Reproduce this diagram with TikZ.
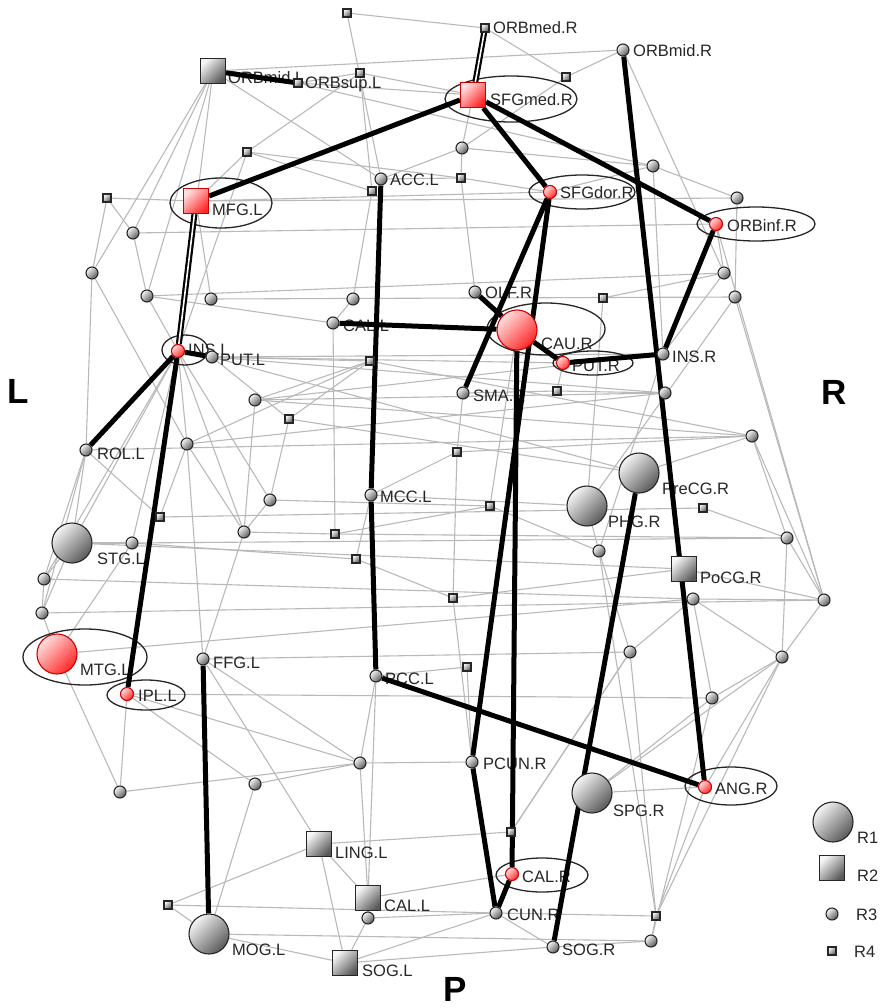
\documentclass[tikz,border=0pt]{standalone}
\usepackage{fontspec}
\setmainfont{Liberation Sans}
\usetikzlibrary{shapes.geometric}
\pgfdeclarelayer{bg}
\pgfdeclarelayer{lab}
\pgfdeclarelayer{thick}
\pgfsetlayers{bg,lab,thick,main}
\definecolor{edgegray}{RGB}{185,185,185}
\begin{document}
\begin{tikzpicture}[x=1pt,y=-1pt,
  nd/.style={draw=black!85, line width=1.1pt, inner sep=0pt, top color=gray!8, bottom color=gray!70!black, shading angle=45},
  rd/.style={draw=red!80!black, line width=1.1pt, inner sep=0pt, top color=red!12, bottom color=red!85, shading angle=45},
  rone/.style={circle, minimum size=40pt},
  rtwo/.style={rectangle, minimum size=25pt},
  rthree/.style={circle, minimum size=12pt},
  rthreered/.style={circle, minimum size=13pt},
  rfour/.style={rectangle, minimum size=8pt},
  weak/.style={draw=edgegray, line width=1.1pt},
  strong/.style={draw=black, line width=5pt},
  dbl/.style={draw=black, line width=2.2pt, double=white, double distance=1.6pt},
  ring/.style={draw=black!85, line width=1.3pt},
  lab/.style={font=\fontsize{16.5}{18}\selectfont, text=black!85, inner sep=0pt, anchor=base west},
  side/.style={font=\bfseries\fontsize{35}{40}\selectfont, inner sep=0pt}]
\useasboundingbox (0,0) rectangle (884,1008);

% ---------- named regions ----------
\node[nd,rtwo] (ORBmidL) at (213,71) {};
\node[nd,rfour] (ORBsupL) at (298,83) {};
\node[nd,rfour] (ORBmedR) at (485,28) {};
\node[nd,rthree] (ORBmidR) at (623,50) {};
\node[rd,rtwo] (SFGmedR) at (473,95) {};
\node[nd,rthree] (ACCL) at (381,179) {};
\node[rd,rthreered] (SFGdorR) at (550,192) {};
\node[rd,rtwo] (MFGL) at (196,201) {};
\node[rd,rthreered] (ORBinfR) at (716,224) {};
\node[nd,rthree] (OLFR) at (475,292) {};
\node[nd,rthree] (PALL) at (333,323) {};
\node[rd,rone] (CAUR) at (517,330) {};
\node[rd,rthreered] (PUTR) at (563,363) {};
\node[rd,rthreered] (INSL) at (178,351) {};
\node[nd,rthree] (PUTL) at (212,357) {};
\node[nd,rthree] (INSR) at (663,354) {};
\node[nd,rthree] (SMAR) at (463,393) {};
\node[nd,rthree] (ROLL) at (86,450) {};
\node[nd,rthree] (MCCL) at (371,495) {};
\node[nd,rone] (PreCGR) at (639,473) {};
\node[nd,rone] (PHGR) at (587,506) {};
\node[nd,rone] (STGL) at (72,543) {};
\node[nd,rtwo] (PoCGR) at (684,569) {};
\node[rd,rone] (MTGL) at (57,654) {};
\node[nd,rthree] (FFGL) at (203,659) {};
\node[nd,rthree] (PCCL) at (376,676) {};
\node[rd,rthreered] (IPLL) at (127,694) {};
\node[nd,rthree] (PCUNR) at (472,762) {};
\node[nd,rone] (SPGR) at (592,793) {};
\node[rd,rthreered] (ANGR) at (705,787) {};
\node[nd,rtwo] (LINGL) at (319,844) {};
\node[rd,rthreered] (CALR) at (512,874) {};
\node[nd,rtwo] (CALL) at (368,898) {};
\node[nd,rthree] (CUNR) at (496,913) {};
\node[nd,rone] (MOGL) at (209,934) {};
\node[nd,rthree] (SOGR) at (553,947) {};
\node[nd,rtwo] (SOGL) at (345,963) {};

% ---------- unlabelled regions ----------
\foreach \n/\x/\y in {a1/347/13, a2/360/73, a3/566/77, a5/247/152, a6/461/178, a7/372/191,
  a10/107/198, a16/603/298, a19/370/361, a20/557/391, a23/289/419, a25/457/452, a28/490/506,
  a29/703/508, a30/160/517, a33/335/534, a36/356/559, a38/453/598, a44/467/667, a49/511/832,
  a50/168/905, a52/656/916}
  \node[nd,rfour] (\n) at (\x,\y) {};
\foreach \n/\x/\y in {a4/462/148, a8/653/166, a9/737/198, a11/133/233, a12/92/273, a13/147/296,
  a14/211/299, a15/353/299, a17/724/273, a18/735/297, a21/665/393, a22/255/400, a24/187/444,
  a26/752/436, a27/270/500, a31/244/532, a32/132/543, a34/787/538, a35/599/551, a37/44/579,
  a39/693/599, a40/824/600, a41/42/613, a42/630/652, a43/782/657, a45/712/698, a46/360/763,
  a47/255/784, a48/120/792, a51/368/918, a53/651/941}
  \node[nd,rthree] (\n) at (\x,\y) {};

% ---------- legend ----------
\node[nd,rone] (k1) at (833,822) {};
\node[nd,rtwo] (k2) at (832,868) {};
\node[nd,rthree] (k3) at (832,914) {};
\node[nd,rfour] (k4) at (832,951) {};

% ---------- thin connections ----------
\begin{pgfonlayer}{bg}
\foreach \a/\b in {a1/ORBmedR, a1/ACCL, a2/a7, a2/SFGmedR, ORBsupL/a2, ORBmedR/a3, ORBmidR/a3,
  ORBmidL/ORBmidR, a3/a4, a4/ACCL, a4/a6, a4/SFGmedR, a4/a8, ORBsupL/SFGmedR, ORBsupL/a8,
  ACCL/ORBmidL, a5/a2, a5/a6, a5/a7, a5/INSL, a5/MFGL, ACCL/a6, a6/SFGdorR, a6/OLFR, a7/a15,
  MFGL/SFGdorR, MFGL/a9, a10/MFGL, a10/a11, a10/a12, a11/ORBinfR, a11/a13, ORBmidL/a11,
  ORBmidL/a12, ORBmidL/a13, ORBmidL/INSL, ORBmidR/a17, a8/a9, a8/SFGdorR, a8/INSR, a9/a18,
  ORBinfR/a17, a13/a17, a14/a18, a14/MFGL, a13/INSL, a16/a17, a16/PHGR, a17/INSR, a18/PHGR,
  a18/a40, ORBinfR/a40, a15/PALL, PALL/a13, PALL/a33, PUTL/INSR, PUTL/PUTR, PUTL/a19, PUTL/a21,
  PUTL/a23, PUTL/PreCGR, a19/a22, a19/a23, a19/a26, a24/a19, a22/a21, a22/INSR, a22/a26,
  a22/a31, a23/PreCGR, a25/MCCL, a25/a26, SMAR/a20, a20/a21, SMAR/a25, a25/a38, PUTR/a20,
  a12/ROLL, a12/a24, ROLL/a26, ROLL/a30, ROLL/STGL, ROLL/a37, ROLL/a41, a24/a30, a24/a21,
  a24/a31, INSL/a24, INSL/a27, INSL/a31, INSL/STGL, INSL/a37, INSL/a32, a27/a28, a27/a23,
  a27/a31, a30/a29, a31/a33, a33/a28, a32/a34, a32/a36, a36/MCCL, a36/a38, a38/PoCGR,
  a38/PCUNR, a44/PCUNR, PCCL/a44, PCCL/a46, PCCL/CALL, a28/a35, CAUR/a28, MCCL/PHGR, a33/a34,
  STGL/a32, STGL/PoCGR, STGL/a37, a37/a41, a41/STGL, a41/MTGL, a37/a39, a41/a40, MTGL/a39,
  MTGL/a48, a32/MTGL, FFGL/a42, FFGL/a31, FFGL/a24, FFGL/a46, FFGL/LINGL, IPLL/a45, IPLL/a46,
  IPLL/a48, IPLL/a47, a29/a34, a34/a43, a34/a40, a26/a34, a26/a40, PreCGR/a26, PoCGR/a40,
  a39/a40, a39/a43, a39/a42, a39/a45, a40/a43, a43/a45, a43/SPGR, a43/ANGR, a43/a52, a42/a35,
  a35/PHGR, a42/a52, a42/a49, a35/a52, a45/SPGR, a45/a53, SPGR/ANGR, ANGR/a52, a52/a53,
  SOGR/a53, CUNR/a52, a46/PCUNR, a47/a46, a48/a46, a47/MOGL, MOGL/a50, a50/CUNR, a50/LINGL,
  MOGL/SOGL, MOGL/a53, LINGL/CALL, LINGL/SOGL, LINGL/a49, CALL/a51, CALL/CALR, CALL/a46,
  a51/CUNR, SOGL/SOGR, SOGL/CUNR, SOGL/a51, CUNR/SOGR, a49/a42, INSR/a35}
  \draw[weak] (\a) -- (\b);
\end{pgfonlayer}

% ---------- rings and labels ----------
\begin{pgfonlayer}{lab}
\draw[ring] (511,99) ellipse [x radius=66, y radius=23];
\draw[ring] (221,203) ellipse [x radius=51, y radius=25];
\draw[ring] (582,192) ellipse [x radius=53, y radius=17];
\draw[ring] (756,224) ellipse [x radius=59, y radius=17];
\draw[ring] (185,350) ellipse [x radius=23, y radius=15];
\draw[ring] (546,329) ellipse [x radius=59, y radius=26];
\draw[ring] (593,363) ellipse [x radius=40, y radius=12];
\draw[ring] (85,657) ellipse [x radius=62, y radius=28];
\draw[ring] (146,695) ellipse [x radius=39, y radius=15];
\draw[ring] (731,786) ellipse [x radius=46, y radius=19];
\draw[ring] (542,875) ellipse [x radius=46, y radius=17];

\node[lab] (tORBmedR) at (493,34) {ORBmed.R};
\node[lab] (tORBmidR) at (633,57) {ORBmid.R};
\node[lab] (tORBmidL) at (228,84) {ORBmid.L};
\node[lab] (tORBsupL) at (305,89) {ORBsup.L};
\node[lab] (tSFGmedR) at (490,106) {SFGmed.R};
\node[lab] (tACCL) at (390,186) {ACC.L};
\node[lab] (tSFGdorR) at (560,199) {SFGdor.R};
\node[lab] (tMFGL) at (212,215) {MFG.L};
\node[lab] (tORBinfR) at (727,232) {ORBinf.R};
\node[lab] (tOLFR) at (485,298) {OLF.R};
\node[lab] (tPALL) at (343,331) {CAL.L};
\node[lab] (tCAUR) at (541,349) {CAU.R};
\node[lab] (tPUTR) at (572,371) {PUT.R};
\node[lab] (tINSL) at (188,355) {INS.L};
\node[lab] (tPUTL) at (220,365) {PUT.L};
\node[lab] (tINSR) at (672,362) {INS.R};
\node[lab] (tSMAR) at (473,401) {SMA.R};
\node[lab] (tROLL) at (97,459) {ROL.L};
\node[lab] (tMCCL) at (380,502) {MCC.L};
\node[lab] (tPreCGR) at (662,494) {PreCG.R};
\node[lab] (tPHGR) at (608,527) {PHG.R};
\node[lab] (tSTGL) at (97,564) {STG.L};
\node[lab] (tPoCGR) at (700,583) {PoCG.R};
\node[lab] (tMTGL) at (80,675) {MTG.L};
\node[lab] (tFFGL) at (213,668) {FFG.L};
\node[lab] (tPCCL) at (385,684) {PCC.L};
\node[lab] (tIPLL) at (138,701) {IPL.L};
\node[lab] (tPCUNR) at (483,769) {PCUN.R};
\node[lab] (tSPGR) at (613,816) {SPG.R};
\node[lab] (tANGR) at (715,794) {ANG.R};
\node[lab] (tLINGL) at (335,858) {LING.L};
\node[lab] (tCALR) at (522,882) {CAL.R};
\node[lab] (tCALL) at (384,911) {CAL.L};
\node[lab] (tCUNR) at (507,920) {CUN.R};
\node[lab] (tMOGL) at (232,955) {MOG.L};
\node[lab] (tSOGR) at (562,955) {SOG.R};
\node[lab] (tSOGL) at (362,976) {SOG.L};

\node[lab] (tk1) at (857,843) {R1};
\node[lab] (tk2) at (857,881) {R2};
\node[lab] (tk3) at (856,920) {R3};
\node[lab] (tk4) at (854,957) {R4};

\node[side] (sideL) at (18,391) {L};
\node[side] (sideR) at (834,392) {R};
\node[side] (sideP) at (455,989) {P};
\end{pgfonlayer}

% ---------- strong connections ----------
\begin{pgfonlayer}{thick}
\draw[strong] (ORBmidL) -- (ORBsupL);
\draw[dbl] (ORBmedR) -- (SFGmedR);
\draw[strong] (SFGmedR) -- (MFGL);
\draw[strong] (SFGmedR) -- (SFGdorR);
\draw[strong] (SFGmedR) -- (ORBinfR);
\draw[strong] (ORBmidR) -- (ANGR);
\draw[strong] (ORBinfR) -- (INSR);
\draw[strong] (INSR) -- (PUTR);
\draw[strong] (CAUR) -- (PUTR);
\draw[strong] (CAUR) -- (OLFR);
\draw[strong] (CAUR) -- (PALL);
\draw[strong] (SFGdorR) -- (SMAR);
\draw[strong] (SFGdorR) -- (PCUNR);
\draw[strong] (CAUR) -- (CALR);
\draw[strong] (PCUNR) -- (CUNR);
\draw[strong] (CUNR) -- (CALR);
\draw[strong] (ACCL) -- (MCCL);
\draw[strong] (MCCL) -- (PCCL);
\draw[strong] (PCCL) -- (ANGR);
\draw[strong] (FFGL) -- (MOGL);
\draw[strong] (PreCGR) -- (SOGR);
\draw[dbl] (MFGL) -- (INSL);
\draw[strong] (INSL) -- (IPLL);
\draw[strong] (INSL) -- (ROLL);
\draw[strong] (INSL) -- (PUTL);
\end{pgfonlayer}
\end{tikzpicture}
\end{document}
